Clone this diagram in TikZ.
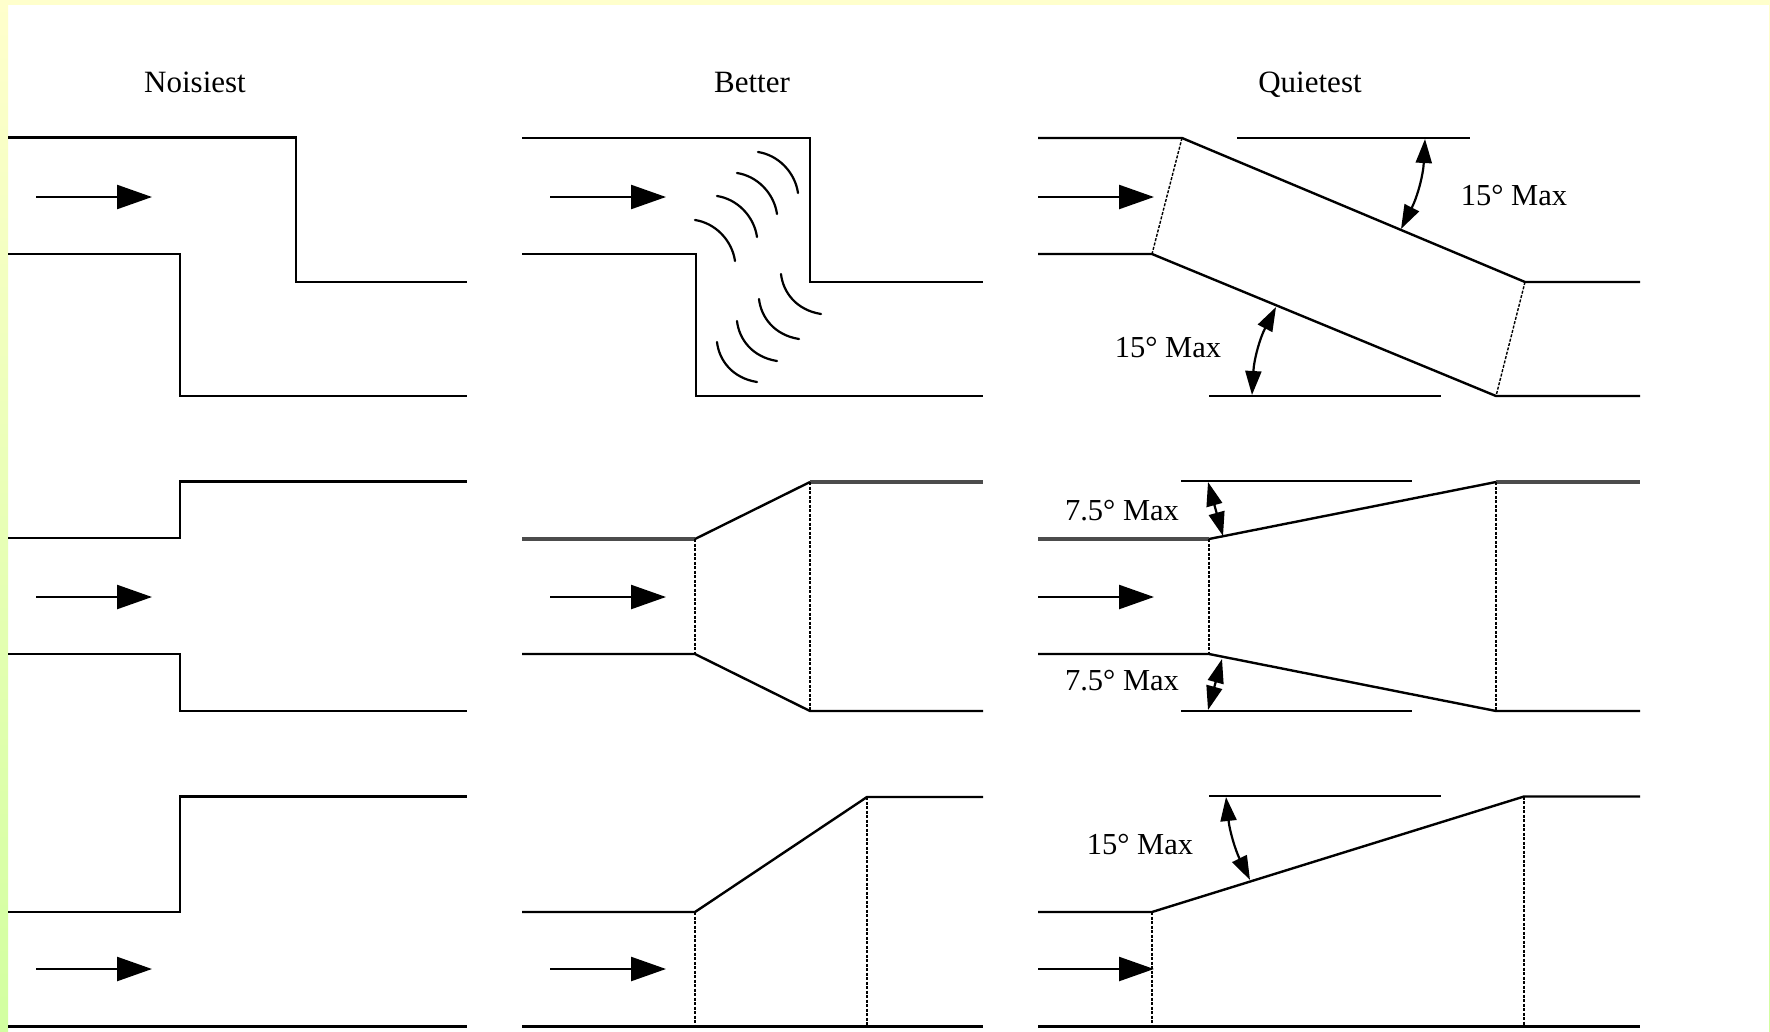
\documentclass[tikz,border=0pt]{standalone}
\usepackage{fontspec}
\setmainfont{Liberation Serif}
\usepackage{xcolor}
\usetikzlibrary{arrows.meta,positioning,calc}
\definecolor{bandyellow}{HTML}{FFFFCC}
\definecolor{bandgreen}{HTML}{D2FFA0}
\tikzset{
  duct/.style={line width=2.4pt, line join=miter},
  softduct/.style={line width=3.4pt, draw=black!70},
  joint/.style={line width=1.4pt, dash pattern=on 3pt off 1.5pt},
  wave/.style={line width=2.2pt, line cap=round},
  flow/.style={-{Triangle[length=35pt,width=24pt]}, line width=2.4pt},
  limit/.style={{Triangle[length=24pt,width=16pt]}-{Triangle[length=24pt,width=16pt]}, line width=2.2pt},
  heading/.style={font=\fontsize{31}{36}\selectfont, inner sep=0pt, anchor=base},
  maxlabel/.style={font=\fontsize{30.5}{36}\selectfont, inner sep=0pt},
}
\newcommand{\flowat}[3]{\coordinate (#1a) at (#2,#3); \coordinate (#1b) at (#2+116,#3); \draw[flow] (#1a)--(#1b);}
\newcommand{\waveup}[2]{\draw[wave, shift={(#1,#2)}] (0,0) .. controls (20,3) and (37,20) .. (40,41);}
\newcommand{\wavedown}[2]{\draw[wave, shift={(#1,#2)}] (0,0) .. controls (2,18) and (15,36) .. (40,40);}

\begin{document}
\begin{tikzpicture}[x=1pt,y=-1pt]
  \useasboundingbox (0,0) rectangle (1770,1031);
  \fill[white] (0,0) rectangle (1770,1031);
  \shade[top color=bandyellow, bottom color=bandgreen] (0,0) rectangle (8,1031);
  \shade[top color=bandyellow, bottom color=bandgreen] (1769,0) rectangle (1770,1031);
  \fill[bandyellow] (0,0) rectangle (1770,5);

  \node[heading] (noisiest) at (195,92) {Noisiest};
  \node[heading] (better) at (752,92) {Better};
  \node[heading] (quietest) at (1310,92) {Quietest};

  \draw[duct] (8,137.5)--(296,137.5)--(296,282)--(467,282);
  \draw[duct] (8,254)--(180,254)--(180,396)--(467,396);
  \flowat{fa}{36}{197}
  \draw[duct] (8,538)--(180,538)--(180,481.5)--(467,481.5);
  \draw[duct] (8,654)--(180,654)--(180,711)--(467,711);
  \flowat{fb}{36}{597}
  \draw[duct] (8,912)--(180,912)--(180,796.5)--(467,796.5);
  \draw[duct] (8,1026.5)--(467,1026.5);
  \flowat{fc}{36}{969}

  \draw[duct] (522,138)--(810,138)--(810,282)--(983,282);
  \draw[duct] (522,254)--(696,254)--(696,396)--(983,396);
  \flowat{fd}{550}{197}
  \waveup{695}{220} \waveup{717}{196} \waveup{737}{173} \waveup{758}{152}
  \wavedown{781}{274} \wavedown{759}{299} \wavedown{737}{321} \wavedown{717}{342}
  \draw[softduct] (522,539)--(695,539);
  \draw[duct] (695,539)--(810,482);
  \draw[softduct] (810,482)--(983,482);
  \draw[duct] (522,654)--(695,654)--(810,711)--(983,711);
  \draw[joint] (695,539)--(695,654);
  \draw[joint] (810,482)--(810,711);
  \flowat{fe}{550}{597}
  \draw[duct] (522,912)--(695,912)--(867,797)--(983,797);
  \draw[duct] (522,1026.5)--(983,1026.5);
  \draw[joint] (695,912)--(695,1026.5);
  \draw[joint] (867,797)--(867,1026.5);
  \flowat{ff}{550}{969}

  \draw[duct] (1038,138)--(1182,138)--(1525,282)--(1640,282);
  \draw[duct] (1038,254)--(1152,254)--(1496,396)--(1640,396);
  \draw[joint] (1182,138)--(1152,254);
  \draw[joint] (1525,282)--(1496,396);
  \draw[duct] (1237,138)--(1470,138);
  \draw[duct] (1209,396)--(1441,396);
  \flowat{fg}{1038}{197}
  \coordinate (topa) at (1425,139);
  \coordinate (topb) at (1401,229);
  \coordinate (lowa) at (1276,307);
  \coordinate (lowb) at (1252,395);
  \draw[limit] (topa) to[bend left=12] (topb);
  \draw[limit] (lowa) to[bend right=12] (lowb);
  \node[maxlabel] (maxtop) at (1514,196) {15° Max};
  \node[maxlabel] (maxlow) at (1168,348) {15° Max};

  \draw[softduct] (1038,539)--(1209,539);
  \draw[duct] (1209,539)--(1496,482);
  \draw[softduct] (1496,482)--(1640,482);
  \draw[duct] (1038,654)--(1209,654)--(1496,711)--(1640,711);
  \draw[joint] (1209,539)--(1209,654);
  \draw[joint] (1496,482)--(1496,711);
  \draw[duct] (1181,481)--(1412,481);
  \draw[duct] (1181,711)--(1412,711);
  \flowat{fh}{1038}{597}
  \coordinate (upa) at (1208,482);
  \coordinate (upb) at (1223,536);
  \coordinate (dna) at (1222,659);
  \coordinate (dnb) at (1208,710);
  \draw[limit] (upa)--(upb);
  \draw[limit] (dna)--(dnb);
  \node[maxlabel] (sevtop) at (1122,511) {7.5° Max};
  \node[maxlabel] (sevlow) at (1122,681) {7.5° Max};

  \draw[duct] (1038,912)--(1152,912)--(1524,796.5)--(1640,796.5);
  \draw[duct] (1038,1026.5)--(1640,1026.5);
  \draw[joint] (1152,912)--(1152,1026.5);
  \draw[joint] (1524,796.5)--(1524,1026.5);
  \draw[duct] (1209,796)--(1441,796);
  \flowat{fi}{1038}{969}
  \coordinate (risa) at (1226,797);
  \coordinate (risb) at (1250,880);
  \draw[limit] (risa) to[bend right=10] (risb);
  \node[maxlabel] (maxrise) at (1140,844) {15° Max};
\end{tikzpicture}
\end{document}
